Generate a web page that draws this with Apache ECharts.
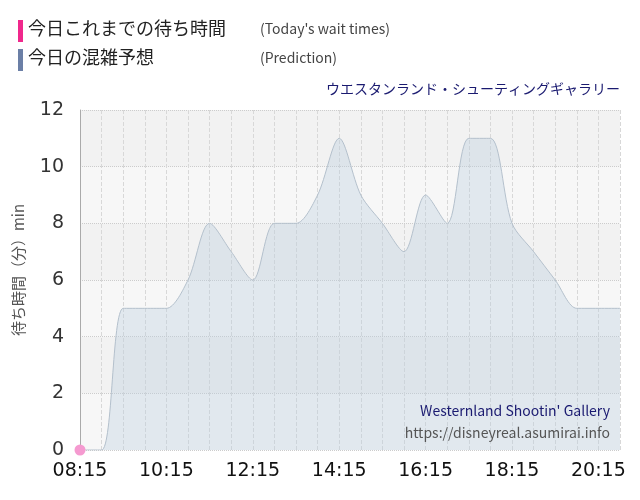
<!DOCTYPE html>
<html><head><meta charset="utf-8">
<script src="https://cdn.jsdelivr.net/npm/echarts@6/dist/echarts.min.js"></script>
<style>body{margin:0}#c{width:640px;height:500px}</style>
</head><body><div id="c"></div>
<script>
var times = ['08:15','08:45','09:15','09:45','10:15','10:45','11:15','11:45','12:15','12:45','13:15','13:45','14:15','14:45','15:15','15:45','16:15','16:45','17:15','17:45','18:15','18:45','19:15','19:45','20:15','20:45'];
var prediction = [0,0,5,5,5,6,8,7,6,8,8,9,11,9,8,7,9,8,11,11,8,7,6,5,5,5];
var actualTimes = ['08:15'];
var actual = [0];
var tickLabels = ['08:15','10:15','12:15','14:15','16:15','18:15','20:15'];

function toMin(t){ var p = t.split(':'); return +p[0]*60 + +p[1]; }
function fmt(m){ var h = Math.floor(m/60), mm = m%60; return (h<10?'0':'')+h+':'+(mm<10?'0':'')+mm; }

var font = '"Noto Sans CJK JP", "DejaVu Sans", sans-serif';
var chart = echarts.init(document.getElementById('c'));
chart.setOption({
	animation: false,
	grid: { left: 80, right: 20, top: 110, bottom: 50 },
	graphic: [
		{ type: 'rect', left: 18, top: 20, shape: { width: 5, height: 22 }, style: { fill: '#f0288c' } },
		{ type: 'text', left: 28, top: 19, style: { text: '今日これまでの待ち時間', font: '18px ' + font, fill: '#222' } },
		{ type: 'text', left: 260, top: 22, style: { text: "(Today's wait times)", font: '14px ' + font, fill: '#444' } },
		{ type: 'rect', left: 18, top: 49, shape: { width: 5, height: 22 }, style: { fill: '#6b7fa6' } },
		{ type: 'text', left: 28, top: 48, style: { text: '今日の混雑予想', font: '18px ' + font, fill: '#222' } },
		{ type: 'text', left: 260, top: 51, style: { text: '(Prediction)', font: '14px ' + font, fill: '#444' } },
		{ type: 'text', right: 20, top: 82, style: { text: 'ウエスタンランド・シューティングギャラリー', font: '14px ' + font, fill: '#1a1a70' } },
		{ type: 'text', right: 30, top: 404, z: 100, style: { text: "Westernland Shootin' Gallery", font: '14px ' + font, fill: '#1a1a70' } },
		{ type: 'text', right: 30, top: 426, z: 100, style: { text: 'https://disneyreal.asumirai.info', font: '14px ' + font, fill: '#555' } },
		{ type: 'text', x: 18, y: 270, rotation: Math.PI/2, style: { text: '待ち時間（分）min', font: '15px ' + font, fill: '#555', align: 'center', verticalAlign: 'middle' } }
	],
	xAxis: {
		type: 'value',
		min: toMin('08:15'),
		max: toMin('20:45'),
		interval: 30,
		axisLine: { show: false },
		axisTick: { show: false },
		axisLabel: {
			fontSize: 19, color: '#111', fontFamily: 'DejaVu Sans', margin: 12,
			formatter: function(v){ var s = fmt(v); return tickLabels.indexOf(s) >= 0 ? s : ''; }
		},
		splitLine: { lineStyle: { color: '#d8d8d8', type: 'dashed' } }
	},
	yAxis: {
		type: 'value', min: 0, max: 12, interval: 2,
		axisLine: { show: true, lineStyle: { color: '#aaa' } },
		axisTick: { show: false },
		axisLabel: { fontSize: 19, color: '#333', fontFamily: 'DejaVu Sans', margin: 16 },
		splitLine: { lineStyle: { color: '#ccc', type: 'dotted' } },
		splitArea: { show: true, areaStyle: { color: ['#f7f7f7', '#f2f2f2'] } }
	},
	series: [
		{
			name: 'Prediction', type: 'line', smooth: 0.3, symbol: 'none',
			data: times.map(function(t, i){ return [toMin(t), prediction[i]]; }),
			lineStyle: { color: '#b4c0cc', width: 1 },
			areaStyle: { color: 'rgba(185,205,222,0.5)' }
		},
		{
			name: 'Today', type: 'line', symbol: 'circle', symbolSize: 11,
			data: actualTimes.map(function(t, i){ return [toMin(t), actual[i]]; }),
			itemStyle: { color: '#f59ad0' }, lineStyle: { color: '#f59ad0' }
		}
	]
});
</script>
</body></html>
